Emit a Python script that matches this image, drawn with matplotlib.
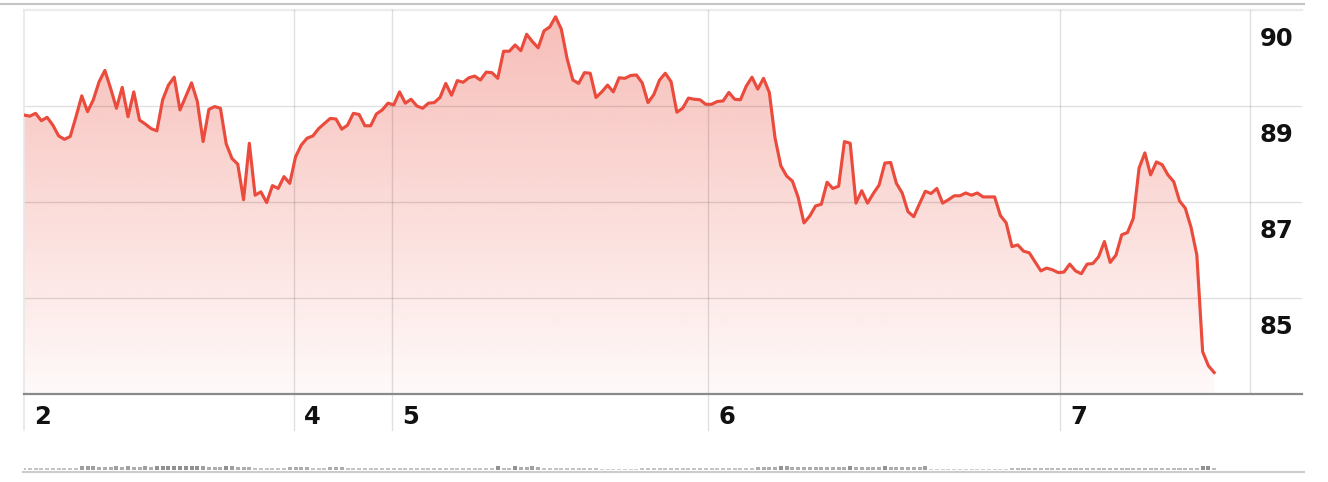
import numpy as np
import matplotlib
matplotlib.use("Agg")
import matplotlib.pyplot as plt
from matplotlib.patches import Polygon
from matplotlib.lines import Line2D

# ---------------- data ----------------
prices = [
    89.04, 89.02, 89.07, 88.94, 89.00, 88.86, 88.67, 88.61, 88.66, 89.01,
    89.38, 89.10, 89.31, 89.63, 89.83, 89.51, 89.16, 89.53, 89.01, 89.45,
    88.95, 88.88, 88.80, 88.76, 89.31, 89.57, 89.71, 89.13, 89.37, 89.61,
    89.28, 88.57, 89.14, 89.19, 89.16, 88.53, 88.27, 88.17, 87.54, 88.54,
    87.62, 87.68, 87.49, 87.79, 87.74, 87.95, 87.83, 88.30, 88.51, 88.63,
    88.67, 88.80, 88.89, 88.98, 88.97, 88.79, 88.86, 89.07, 89.05, 88.85,
    88.85, 89.06, 89.13, 89.25, 89.22, 89.45, 89.25, 89.32, 89.20, 89.16,
    89.25, 89.26, 89.35, 89.60, 89.39, 89.65, 89.62, 89.70, 89.73, 89.66,
    89.80, 89.79, 89.69, 90.17, 90.17, 90.28, 90.18, 90.47, 90.34, 90.23,
    90.53, 90.60, 90.78, 90.56, 90.04, 89.66, 89.60, 89.79, 89.78, 89.35,
    89.45, 89.57, 89.45, 89.70, 89.69, 89.74, 89.75, 89.61, 89.26, 89.40,
    89.66, 89.78, 89.63, 89.09, 89.16, 89.34, 89.32, 89.31, 89.23, 89.23,
    89.28, 89.29, 89.44, 89.32, 89.31, 89.55, 89.71, 89.50, 89.69, 89.44,
    88.63, 88.14, 87.96, 87.87, 87.58, 87.13, 87.25, 87.43, 87.46, 87.85,
    87.74, 87.78, 88.57, 88.54, 87.48, 87.70, 87.48, 87.65, 87.80, 88.19,
    88.20, 87.83, 87.66, 87.33, 87.24, 87.47, 87.69, 87.65, 87.74, 87.48,
    87.54, 87.61, 87.61, 87.66, 87.62, 87.66, 87.59, 87.59, 87.59, 87.26,
    87.13, 86.71, 86.74, 86.63, 86.60, 86.44, 86.28, 86.33, 86.30, 86.25,
    86.26, 86.40, 86.28, 86.23, 86.40, 86.41, 86.53, 86.80, 86.43, 86.56,
    86.92, 86.96, 87.21, 88.10, 88.37, 87.98, 88.21, 88.16, 87.98, 87.86,
    87.52, 87.39, 87.05, 86.56, 84.85, 84.60, 84.48,
]

volumes = [
    1.2, 1.2, 1.2, 1.2, 1.2, 1.2, 1.2, 1.2, 1.2, 1.2,
    2.5, 2.5, 2.5, 2.0, 2.0, 2.0, 2.5, 2.0, 2.5, 2.0,
    2.0, 2.5, 2.0, 3.0, 3.0, 3.0, 3.0, 3.0, 3.0, 3.0,
    3.0, 2.5, 2.0, 2.0, 2.0, 3.0, 2.5, 2.0, 2.0, 2.0,
    1.2, 1.2, 1.2, 1.2, 1.2, 1.2, 2.0, 2.0, 2.0, 2.0,
    1.2, 1.2, 1.2, 2.0, 2.0, 2.0, 1.2, 1.2, 1.2, 1.2,
    1.2, 1.2, 1.2, 1.2, 1.2, 1.2, 1.2, 1.2, 1.2, 1.2,
    1.2, 1.2, 1.2, 1.2, 1.2, 1.2, 1.2, 1.2, 1.2, 1.2,
    1.2, 1.2, 3.0, 1.5, 1.5, 3.0, 2.0, 2.0, 2.5, 2.0,
    1.2, 1.2, 1.2, 1.2, 1.2, 1.2, 1.2, 1.2, 1.2, 1.2,
    0.8, 0.8, 0.8, 0.8, 0.8, 0.8, 0.8, 1.2, 1.2, 1.2,
    1.2, 1.2, 1.2, 1.2, 1.2, 1.2, 1.2, 1.2, 1.2, 1.2,
    1.2, 1.2, 1.2, 1.2, 1.2, 1.2, 1.2, 2.0, 2.0, 2.0,
    2.0, 3.0, 2.5, 2.0, 2.0, 2.0, 2.0, 2.0, 2.0, 2.0,
    2.0, 2.0, 2.0, 3.0, 2.0, 2.0, 2.0, 2.0, 2.0, 3.0,
    2.0, 2.0, 2.0, 2.0, 2.0, 2.0, 2.5, 0.8, 0.8, 0.8,
    0.8, 0.8, 0.8, 0.8, 0.8, 0.8, 0.8, 0.8, 0.8, 0.8,
    0.8, 1.5, 1.5, 1.5, 1.5, 1.5, 1.5, 1.5, 1.5, 1.5,
    1.5, 1.5, 1.5, 1.5, 1.5, 1.5, 1.5, 1.5, 1.5, 1.5,
    1.5, 1.5, 1.5, 1.5, 1.5, 1.5, 1.5, 1.5, 1.5, 1.5,
    1.5, 1.5, 1.5, 1.5, 3.0, 3.0, 1.5,
]

day_labels = ['2', '4', '5', '6', '7']
day_starts = [0, 46.7, 63.7, 118.4, 179.3]
price_grid = [90.9, 89.2, 87.5, 85.8]
price_labels = ['90', '89', '87', '85']
Y_MIN, Y_MAX = 84.1, 90.9
X_MAX = 221.2
LABEL_COL = 212.2

# ---------------- figure ----------------
W, H = 1328, 482
fig = plt.figure(figsize=(W / 100, H / 100), dpi=100)
fig.patch.set_facecolor('white')

def fy(px):
    return 1 - px / H

ax = fig.add_axes([24 / W, fy(394), (1302 - 24) / W, 384 / H])
ax.axis('off')

x = np.arange(len(prices))
y = np.array(prices)

LINE_COLOR = '#EA4B3C'

# gradient fill beneath line
n = 256
grad = np.linspace(1, 0, n)
rgba = np.zeros((n, 1, 4))
rgba[..., 0] = 234 / 255
rgba[..., 1] = 75 / 255
rgba[..., 2] = 60 / 255
rgba[:, 0, 3] = 0.03 + 0.34 * grad
im = ax.imshow(rgba, extent=[0, x[-1], Y_MIN, Y_MAX], aspect='auto',
               origin='upper', zorder=1, interpolation='bilinear')
verts = np.vstack([[0, Y_MIN], np.column_stack([x, y]), [x[-1], Y_MIN]])
poly = Polygon(verts, closed=True, facecolor='none', edgecolor='none')
ax.add_patch(poly)
im.set_clip_path(poly)

ax.plot(x, y, color=LINE_COLOR, lw=2.25, solid_joinstyle='round', zorder=4)

ax.set_xlim(0, X_MAX)
ax.set_ylim(Y_MIN, Y_MAX)

GRID = (0, 0, 0, 0.12)
# horizontal gridlines
ax.axhline(Y_MAX, color='#ececec', lw=1.6, clip_on=False, zorder=2)
for g in price_grid[1:]:
    ax.axhline(g, color=GRID, lw=1.0, zorder=2)
# vertical gridlines (extend into label band)
for d in day_starts:
    c = '#e8e8e8' if d == 0 else GRID
    ax.axvline(d, ymin=-36 / 384, ymax=1, color=c, lw=1.2 if d == 0 else 1.0,
               clip_on=False, zorder=2)
ax.axvline(LABEL_COL, ymin=0, ymax=1, color=GRID, lw=1.0, zorder=2)
# bottom axis line
ax.axhline(Y_MIN, color='#8a8a8a', lw=1.6, clip_on=False, zorder=5)

# x labels
for d, lab in zip(day_starts, day_labels):
    ax.annotate(lab, xy=(d, 0), xycoords=('data', 'axes fraction'),
                xytext=(7.5, -21.8), textcoords='offset points',
                ha='left', va='baseline', fontsize=17.5, fontweight='bold',
                color='#111111', family='DejaVu Sans')
# y labels
for g, lab in zip(price_grid, price_labels):
    ax.annotate(lab, xy=(LABEL_COL, g), xycoords='data',
                xytext=(6.8, -26), textcoords='offset points',
                ha='left', va='baseline', fontsize=17.5, fontweight='bold',
                color='#111111', family='DejaVu Sans')

# top separator line
fig.add_artist(Line2D([0, 1304 / W], [fy(4), fy(4)], color='#c4c4c4', lw=1.5))

# volume strip
vax = fig.add_axes([24 / W, fy(470), (1302 - 24) / W, 20 / H])
vax.axis('off')
vax.set_xlim(0, X_MAX)
vax.set_ylim(0, 14)
vcolors = [str(max(0.5, 0.90 - 0.11 * v)) for v in volumes]
vax.bar(x, volumes, width=0.7, color=vcolors, linewidth=0)
fig.add_artist(Line2D([23 / W, 1304 / W], [fy(472), fy(472)], color='#cccccc', lw=1.5))

fig.savefig('out.png', dpi=100, facecolor='white')
